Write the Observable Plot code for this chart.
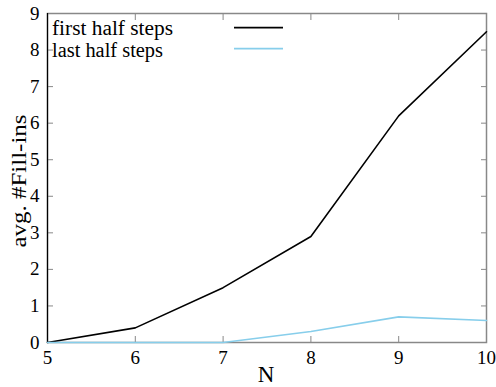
<!DOCTYPE html>
<html>
<head>
<meta charset="utf-8">
<script src="https://cdn.jsdelivr.net/npm/d3@7"></script>
<script src="https://cdn.jsdelivr.net/npm/@observablehq/plot@0.6"></script>
<style>
  body { margin: 0; background: #fff; }
  svg, svg text { font-family: "Liberation Serif", "DejaVu Serif", serif !important; }
</style>
</head>
<body>
<div id="chart"></div>
<script>
const N = [5, 6, 7, 8, 9, 10];
const firstHalf = [0, 0.4, 1.5, 2.9, 6.2, 8.5];
const lastHalf = [0, 0, 0, 0.3, 0.7, 0.6];
const seriesNames = ["first half steps", "last half steps"];
const seriesColors = ["#000000", "#87ceeb"];
const xTicks = [5, 6, 7, 8, 9, 10];
const yTicks = [0, 1, 2, 3, 4, 5, 6, 7, 8, 9];

const data = [];
N.forEach((n, i) => {
  data.push({N: n, v: firstHalf[i], s: seriesNames[0]});
  data.push({N: n, v: lastHalf[i], s: seriesNames[1]});
});

const serif = "Liberation Serif";

const plot = Plot.plot({
  width: 496,
  height: 387,
  marginLeft: 47,
  marginRight: 10,
  marginTop: 13,
  marginBottom: 45,
  style: {background: "#fff"},
  x: {domain: [5, 10]},
  y: {domain: [0, 9]},
  color: {domain: seriesNames, range: seriesColors},
  marks: [
    Plot.frame({stroke: "#888", strokeWidth: 1.5, strokeOpacity: 1}),
    Plot.axisX({ticks: xTicks, tickFormat: "d", tickSize: -6, stroke: "#888", tickPadding: 14, fontSize: 19, fontFamily: serif, fill: "#000", label: null}),
    Plot.axisX({anchor: "top", ticks: xTicks, tickSize: -6, stroke: "#888", tickFormat: () => "", label: null}),
    Plot.axisY({ticks: yTicks, tickFormat: "d", tickSize: -6, stroke: "#888", tickPadding: 14, fontSize: 19, fontFamily: serif, fill: "#000", label: null}),
    Plot.axisY({anchor: "right", ticks: yTicks, tickSize: -6, stroke: "#888", tickFormat: () => "", label: null}),
    Plot.ruleX([5], {stroke: "#000", strokeWidth: 1.2}),
    Plot.line(data, {x: "N", y: "v", z: "s", stroke: "s", strokeWidth: 1.6})
  ]
});

plot.setAttribute("font-family", "Liberation Serif, DejaVu Serif, serif");
const svg = d3.select(plot);
// axis titles
svg.append("text")
  .attr("x", 266).attr("y", 382)
  .attr("text-anchor", "middle")
  .attr("font-size", 23)
  .attr("fill", "#000")
  .text("N");
svg.append("text")
  .attr("transform", "translate(26,181) rotate(-90)")
  .attr("text-anchor", "middle")
  .attr("font-size", 22)
  .attr("textLength", 133)
  .attr("lengthAdjust", "spacingAndGlyphs")
  .attr("fill", "#000")
  .text("avg. #Fill-ins");
// legend
const legLineY = [27.7, 48.7];
const legTextY = [35, 56.5];
const legTextLen = [121, 111];
seriesNames.forEach((name, i) => {
  svg.append("text")
    .attr("x", 52).attr("y", legTextY[i])
    .attr("text-anchor", "start")
    .attr("font-size", 20.5)
    .attr("textLength", legTextLen[i])
    .attr("lengthAdjust", "spacingAndGlyphs")
    .attr("fill", "#000")
    .text(name);
  svg.append("line")
    .attr("x1", 234).attr("x2", 283)
    .attr("y1", legLineY[i]).attr("y2", legLineY[i])
    .attr("stroke", seriesColors[i])
    .attr("stroke-width", 1.8);
});

document.getElementById("chart").appendChild(plot);
</script>
</body>
</html>
